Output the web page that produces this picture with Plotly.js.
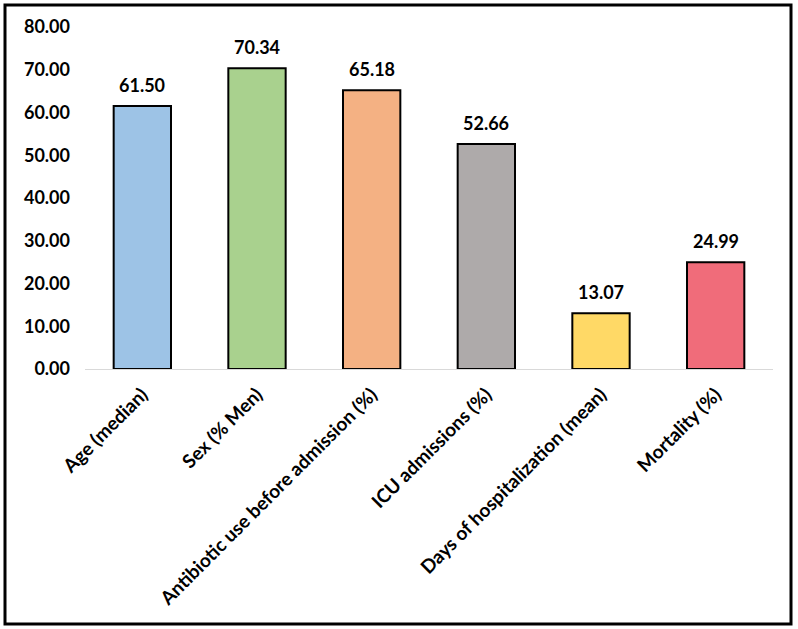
<!DOCTYPE html>
<html>
<head>
<meta charset="utf-8">
<script src="https://cdn.plot.ly/plotly-3.0.1.min.js"></script>
<style>
html,body{margin:0;padding:0;background:#fff;}
#chart{width:798px;height:629px;}
</style>
</head>
<body>
<div id="chart"></div>
<script>
const categories = ["Age (median)", "Sex (% Men)", "Antibiotic use before admission (%)", "ICU admissions (%)", "Days of hospitalization (mean)", "Mortality (%)"];
const values = [61.50, 70.34, 65.18, 52.66, 13.07, 24.99];
const barColors = ["#9DC3E6", "#A9D18E", "#F4B183", "#AEAAAA", "#FFD966", "#F06C7A"];
const yTicks = [0, 10, 20, 30, 40, 50, 60, 70, 80];

const fontFam = "Lato, 'Open Sans', 'Noto Sans', sans-serif";

const trace = {
  type: "bar",
  x: categories,
  y: values,
  marker: {color: barColors, line: {color: "#000000", width: 2}},
  width: 0.5,
  hoverinfo: "skip"
};

const annotations = categories.map((c, i) => ({
  x: c,
  y: values[i],
  xref: "x", yref: "y",
  text: values[i].toFixed(2),
  showarrow: false,
  yanchor: "bottom",
  yshift: 8,
  font: {family: fontFam, size: 18, color: "#000", weight: "bold"}
}));

const layout = {
  width: 798,
  height: 629,
  margin: {l: 85, r: 25, t: 27, b: 260},
  paper_bgcolor: "#ffffff",
  plot_bgcolor: "#ffffff",
  showlegend: false,
  xaxis: {
    type: "category",
    tickangle: -45,
    showgrid: false,
    showline: true,
    linecolor: "#D9D9D9",
    linewidth: 1,
    ticks: "",
    ticklabelstandoff: 6,
    tickfont: {family: fontFam, size: 19, color: "#000", weight: "bold"},
    zeroline: false
  },
  yaxis: {
    range: [0, 80],
    tickvals: yTicks,
    ticktext: yTicks.map(v => v.toFixed(2)),
    showgrid: false,
    showline: false,
    zeroline: false,
    ticks: "",
    ticklabelstandoff: 14,
    tickfont: {family: fontFam, size: 18, color: "#000", weight: "bold"}
  },
  annotations: annotations,
  shapes: [{
    type: "rect",
    xref: "paper", yref: "paper",
    x0: (5 - 85) / 688, x1: (791 - 85) / 688,
    y0: (369 - 624) / 342, y1: (369 - 5) / 342,
    line: {color: "#000", width: 3},
    fillcolor: "rgba(0,0,0,0)",
    layer: "above"
  }]
};

Plotly.newPlot("chart", [trace], layout, {displayModeBar: false, staticPlot: true});
</script>
</body>
</html>
